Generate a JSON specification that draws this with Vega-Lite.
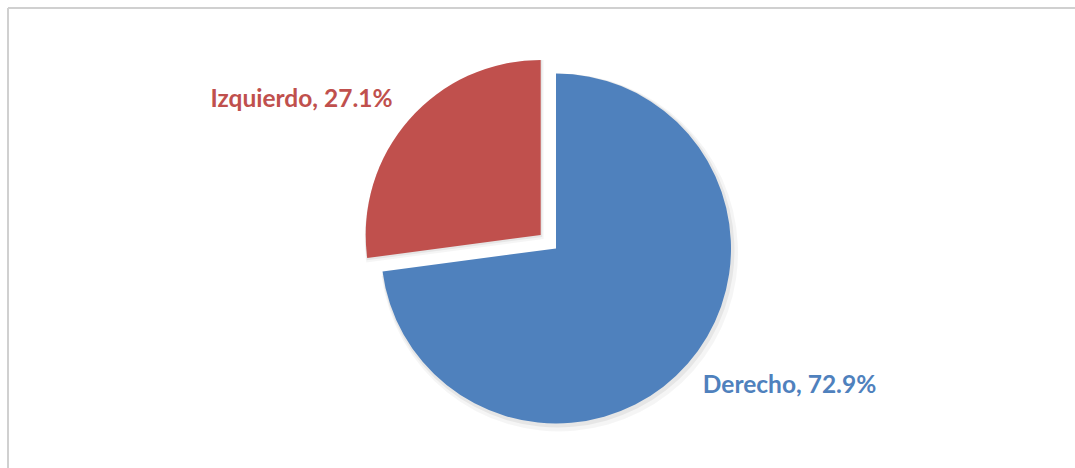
{
  "$schema": "https://vega.github.io/schema/vega-lite/v6.json",
  "width": 1067,
  "height": 460,
  "autosize": "none",
  "padding": {"left": 8, "top": 8, "right": 0, "bottom": 0},
  "background": "white",
  "view": {"stroke": "#d0d0d0", "strokeWidth": 2, "fill": "white", "strokeDash": [1067, 1527, 460, 0]},
  "data": {
    "values": [
      {"category": "Derecho", "value": 72.9, "label": "Derecho, 72.9%"},
      {"category": "Izquierdo", "value": 27.1, "label": "Izquierdo, 27.1%"}
    ]
  },
  "encoding": {
    "theta": {"field": "value", "type": "quantitative", "stack": true, "scale": {"domain": [0, 100]}},
    "color": {
      "field": "category",
      "type": "nominal",
      "scale": {"domain": ["Derecho", "Izquierdo"], "range": ["#4F81BD", "#C0504D"]},
      "legend": null
    }
  },
  "layer": [
    {
      "mark": {"type": "arc", "outerRadius": 179, "xOffset": 17.5, "yOffset": 14.5, "fill": "#000000"},
      "encoding": {"fillOpacity": {"condition": {"test": "datum.category === 'Derecho'", "value": 0.04}, "value": 0}}
    },
    {
      "mark": {"type": "arc", "outerRadius": 177, "xOffset": 16, "yOffset": 12.5, "fill": "#000000"},
      "encoding": {"fillOpacity": {"condition": {"test": "datum.category === 'Derecho'", "value": 0.06}, "value": 0}}
    },
    {
      "mark": {"type": "arc", "outerRadius": 179, "xOffset": 2.2, "yOffset": 1, "fill": "#000000"},
      "encoding": {"fillOpacity": {"condition": {"test": "datum.category === 'Izquierdo'", "value": 0.04}, "value": 0}}
    },
    {
      "mark": {"type": "arc", "outerRadius": 177, "xOffset": 0.7, "yOffset": -1, "fill": "#000000"},
      "encoding": {"fillOpacity": {"condition": {"test": "datum.category === 'Izquierdo'", "value": 0.06}, "value": 0}}
    },
    {
      "mark": {"type": "arc", "outerRadius": 175, "xOffset": 14.5, "yOffset": 10.5},
      "encoding": {"opacity": {"condition": {"test": "datum.category === 'Derecho'", "value": 1}, "value": 0}}
    },
    {
      "mark": {"type": "arc", "outerRadius": 175, "xOffset": -0.8, "yOffset": -3},
      "encoding": {"opacity": {"condition": {"test": "datum.category === 'Izquierdo'", "value": 1}, "value": 0}}
    },
    {
      "mark": {"type": "text", "radius": 283, "thetaOffset": -0.1885, "xOffset": 4, "yOffset": 5, "font": "Lato", "fontSize": 24.5, "fontWeight": "bold"},
      "encoding": {"text": {"field": "label", "type": "nominal"}}
    }
  ]
}
